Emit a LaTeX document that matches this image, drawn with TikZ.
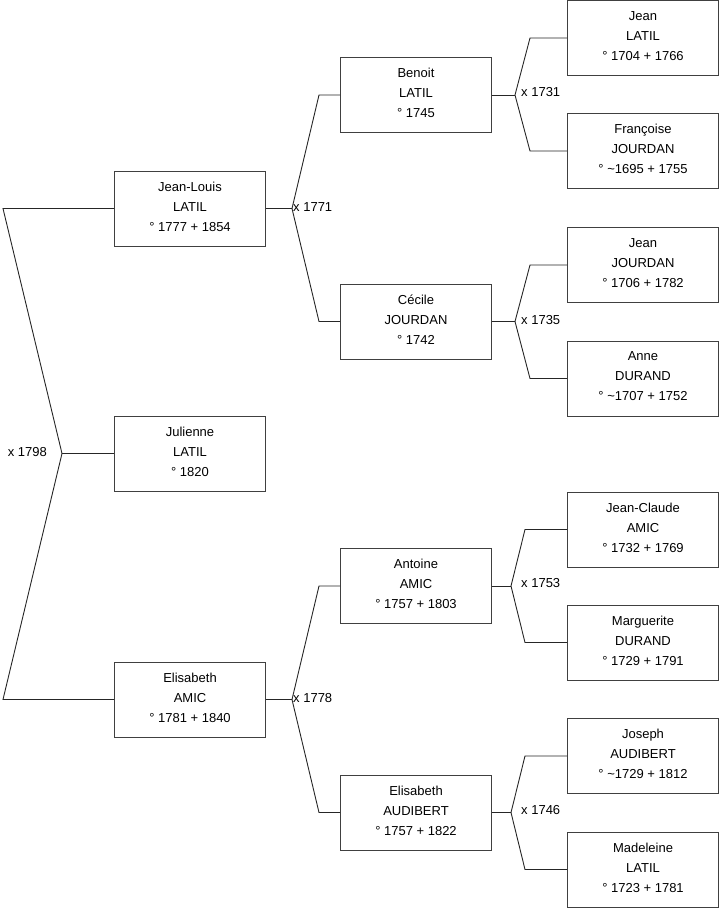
\documentclass[tikz,border=0pt]{standalone}
\usepackage{fontspec}
\setmainfont{Liberation Sans}
\begin{document}
\begin{tikzpicture}[x=1pt,y=-1pt,
  person/.style={draw=black!75, line width=1pt, rectangle, minimum width=151pt, minimum height=75pt,
    inner sep=0pt, align=center, text depth=4pt, font=\fontsize{13}{20}\selectfont},
  link/.style={draw=black!85, line width=0.9pt},
  marr/.style={inner sep=0pt, font=\fontsize{13}{16}\selectfont}]
\useasboundingbox (0,0) rectangle (719,908);
% column 1
\node[person] (jl)  at (190,208.5) {Jean-Louis\\LATIL\\° 1777 + 1854};
\node[person] (jul) at (190,453.5) {Julienne\\LATIL\\° 1820};
\node[person] (ea)  at (190,699.5) {Elisabeth\\AMIC\\° 1781 + 1840};
% column 2
\node[person] (ben) at (416,95) {Benoit\\LATIL\\° 1745};
\node[person] (cec) at (416,321.5) {Cécile\\JOURDAN\\° 1742};
\node[person] (ant) at (416,586) {Antoine\\AMIC\\° 1757 + 1803};
\node[person] (eau) at (416,812.5) {Elisabeth\\AUDIBERT\\° 1757 + 1822};
% column 3
\node[person] (jean) at (643,38) {Jean\\LATIL\\° 1704 + 1766};
\node[person] (fra)  at (643,151) {Françoise\\JOURDAN\\° \textasciitilde 1695 + 1755};
\node[person] (jj)   at (643,265) {Jean\\JOURDAN\\° 1706 + 1782};
\node[person] (anne) at (643,378.5) {Anne\\DURAND\\° \textasciitilde 1707 + 1752};
\node[person] (jc)   at (643,529.5) {Jean-Claude\\AMIC\\° 1732 + 1769};
\node[person] (mar)  at (643,642.5) {Marguerite\\DURAND\\° 1729 + 1791};
\node[person] (jos)  at (643,756) {Joseph\\AUDIBERT\\° \textasciitilde 1729 + 1812};
\node[person] (mad)  at (643,869.5) {Madeleine\\LATIL\\° 1723 + 1781};
% fork coordinates
\coordinate (v0) at (62,453.5);
\coordinate (v0u) at (3,208.5);
\coordinate (v0d) at (3,699.5);
\coordinate (v1) at (292,208.5);
\coordinate (v1u) at (319,95);
\coordinate (v1d) at (319,321.5);
\coordinate (v2) at (292,699.5);
\coordinate (v2u) at (319,586);
\coordinate (v2d) at (319,812.5);
\coordinate (v3) at (515,95);
\coordinate (v3u) at (530,38);
\coordinate (v3d) at (530,151);
\coordinate (v4) at (515,321.5);
\coordinate (v4u) at (530,265);
\coordinate (v4d) at (530,378.5);
\coordinate (v5) at (511,586);
\coordinate (v5u) at (525,529.5);
\coordinate (v5d) at (525,642.5);
\coordinate (v6) at (511,812.5);
\coordinate (v6u) at (525,756);
\coordinate (v6d) at (525,869.5);
% connectors
\draw[link] (jl.west) -- (v0u) -- (v0) -- (v0d) -- (ea.west);
\draw[link] (v0) -- (jul.west);
\draw[link] (ben.west) -- (v1u) -- (v1) -- (v1d) -- (cec.west);
\draw[link] (v1) -- (jl.east);
\draw[link] (ant.west) -- (v2u) -- (v2) -- (v2d) -- (eau.west);
\draw[link] (v2) -- (ea.east);
\draw[link] (jean.west) -- (v3u) -- (v3) -- (v3d) -- (fra.west);
\draw[link] (v3) -- (ben.east);
\draw[link] (jj.west) -- (v4u) -- (v4) -- (v4d) -- (anne.west);
\draw[link] (v4) -- (cec.east);
\draw[link] (jc.west) -- (v5u) -- (v5) -- (v5d) -- (mar.west);
\draw[link] (v5) -- (ant.east);
\draw[link] (jos.west) -- (v6u) -- (v6) -- (v6d) -- (mad.west);
\draw[link] (v6) -- (eau.east);
% marriage labels
\node[marr, anchor=east] (m0) at (47,452.5) {x 1798};
\node[marr, anchor=west] (m1) at (293,207.5) {x 1771};
\node[marr, anchor=west] (m2) at (293,698.5) {x 1778};
\node[marr, anchor=west] (m3) at (521,92) {x 1731};
\node[marr, anchor=west] (m4) at (521,320.5) {x 1735};
\node[marr, anchor=west] (m5) at (521,583) {x 1753};
\node[marr, anchor=west] (m6) at (521,810) {x 1746};
\end{tikzpicture}
\end{document}
